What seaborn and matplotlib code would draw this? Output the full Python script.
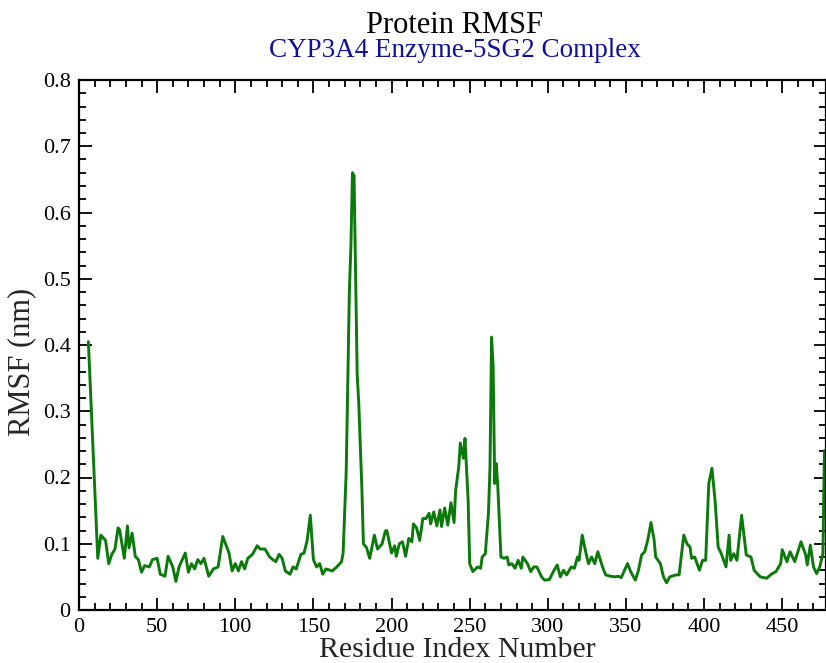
import numpy as np
import pandas as pd
import matplotlib
matplotlib.use('Agg')
import matplotlib.pyplot as plt
import matplotlib.ticker as ticker
import seaborn as sns

# residue index and RMSF (nm)
residue = [6, 12, 14, 17, 19, 21, 23, 25, 26, 29, 31, 32, 34, 36, 38, 40, 42, 45, 47, 50,
           52, 55, 57, 60, 62, 64, 68, 70, 72, 74, 76, 78, 80, 83, 86, 89, 92, 96, 98, 100,
           102, 104, 106, 108, 111, 114, 116, 119, 122, 124, 126, 128, 130, 132, 135, 137, 139, 142, 144, 146,
           148, 150, 152, 154, 156, 158, 162, 165, 168, 169, 171, 173, 174, 175, 176, 177, 178, 179, 181, 182,
           184, 186, 189, 191, 194, 196, 197, 200, 202, 203, 205, 207, 209, 211, 213, 214, 216, 218, 220, 222,
           224, 225, 227, 229, 231, 232, 234, 236, 238, 240, 241, 243, 244, 246, 247, 249, 250, 252, 255, 257,
           258, 260, 262, 263, 264, 265, 266, 267, 268, 270, 272, 274, 275, 277, 279, 281, 283, 284, 287, 289,
           291, 293, 296, 298, 301, 304, 306, 308, 310, 312, 315, 317, 319, 320, 322, 324, 326, 328, 330, 332,
           335, 337, 340, 343, 345, 347, 351, 353, 356, 358, 360, 362, 364, 366, 368, 369, 372, 374, 376, 378,
           382, 384, 387, 389, 391, 392, 394, 397, 399, 401, 403, 405, 407, 409, 411, 414, 416, 417, 419, 421,
           424, 427, 430, 432, 436, 440, 443, 446, 449, 450, 453, 455, 458, 462, 465, 466, 468, 470, 472, 474,
           476, 477]
rmsf = [0.405, 0.078, 0.113, 0.105, 0.070, 0.084, 0.092, 0.124, 0.121, 0.078, 0.127, 0.094, 0.116, 0.081, 0.076, 0.057, 0.067, 0.065, 0.076, 0.078,
        0.054, 0.051, 0.081, 0.065, 0.043, 0.065, 0.086, 0.057, 0.070, 0.062, 0.076, 0.070, 0.078, 0.051, 0.062, 0.065, 0.111, 0.086, 0.059, 0.070,
        0.059, 0.073, 0.062, 0.078, 0.084, 0.097, 0.092, 0.092, 0.080, 0.076, 0.073, 0.084, 0.078, 0.059, 0.054, 0.065, 0.062, 0.084, 0.086, 0.105,
        0.143, 0.076, 0.065, 0.070, 0.054, 0.062, 0.059, 0.065, 0.073, 0.086, 0.210, 0.480, 0.550, 0.660, 0.655, 0.500, 0.356, 0.313, 0.184, 0.100,
        0.094, 0.078, 0.113, 0.092, 0.100, 0.119, 0.120, 0.086, 0.097, 0.081, 0.100, 0.103, 0.081, 0.108, 0.103, 0.130, 0.124, 0.105, 0.138, 0.138,
        0.146, 0.130, 0.148, 0.127, 0.151, 0.126, 0.154, 0.128, 0.162, 0.132, 0.180, 0.216, 0.252, 0.229, 0.259, 0.166, 0.070, 0.058, 0.065, 0.063,
        0.080, 0.085, 0.146, 0.216, 0.412, 0.367, 0.191, 0.221, 0.186, 0.080, 0.078, 0.080, 0.068, 0.070, 0.063, 0.075, 0.063, 0.080, 0.070, 0.058,
        0.065, 0.065, 0.050, 0.045, 0.046, 0.060, 0.068, 0.050, 0.060, 0.053, 0.065, 0.063, 0.080, 0.075, 0.113, 0.090, 0.070, 0.080, 0.070, 0.088,
        0.065, 0.053, 0.051, 0.050, 0.051, 0.049, 0.070, 0.058, 0.045, 0.060, 0.083, 0.088, 0.106, 0.132, 0.106, 0.080, 0.070, 0.050, 0.041, 0.050,
        0.053, 0.053, 0.113, 0.100, 0.095, 0.078, 0.080, 0.060, 0.075, 0.075, 0.191, 0.214, 0.166, 0.095, 0.085, 0.065, 0.113, 0.075, 0.085, 0.075,
        0.143, 0.083, 0.080, 0.060, 0.050, 0.048, 0.054, 0.058, 0.070, 0.091, 0.073, 0.088, 0.073, 0.103, 0.083, 0.068, 0.098, 0.065, 0.055, 0.065,
        0.085, 0.241]

xticks = [0, 50, 100, 150, 200, 250, 300, 350, 400, 450]
yticks = [0, 0.1, 0.2, 0.3, 0.4, 0.5, 0.6, 0.7, 0.8]
ytick_labels = ['0', '0.1', '0.2', '0.3', '0.4', '0.5', '0.6', '0.7', '0.8']

df = pd.DataFrame({'residue': residue, 'rmsf': rmsf})

sns.set_style('ticks')
plt.rcParams['font.family'] = ['Liberation Serif', 'DejaVu Serif']

fig = plt.figure(figsize=(8.26, 6.63), dpi=100)
ax = fig.add_axes([79 / 826, 53 / 663, 1 - 79 / 826, 530 / 663])

sns.lineplot(data=df, x='residue', y='rmsf', ax=ax, color='#0b7a0b', linewidth=2.1,
             estimator=None, sort=False)

ax.set_xlim(0, 478)
ax.set_ylim(0, 0.8)
ax.set_xticks(xticks)
ax.set_xticklabels([str(t) for t in xticks])
ax.set_yticks(yticks)
ax.set_yticklabels(ytick_labels)
ax.xaxis.set_minor_locator(ticker.MultipleLocator(10))
ax.yaxis.set_minor_locator(ticker.MultipleLocator(0.02))
ax.tick_params(which='both', direction='in', top=True, right=True, width=1.3, colors='black', labelsize=16)
ax.tick_params(which='major', length=9, pad=6)
ax.tick_params(which='minor', length=5)
for s in ax.spines.values():
    s.set_linewidth(1.6)
    s.set_color('black')

# axis labels placed as free text to match the reference positions
ax.set_xlabel('')
ax.set_ylabel('')
fig.text(457 / 826, 1 - 657 / 663, 'Residue Index Number', ha='center', va='baseline', fontsize=21.5)
fig.text(22 / 826, 1 - 362 / 663, 'RMSF (nm)', ha='center', va='center', rotation=90, fontsize=22)

fig.text(455 / 826, 1 - 33 / 663, 'Protein RMSF', ha='center', va='baseline', fontsize=22, color='black')
fig.text(455 / 826, 1 - 57 / 663, 'CYP3A4 Enzyme-5SG2 Complex', ha='center', va='baseline', fontsize=19.5, color='#10109e')

fig.savefig('out.png', dpi=100)
